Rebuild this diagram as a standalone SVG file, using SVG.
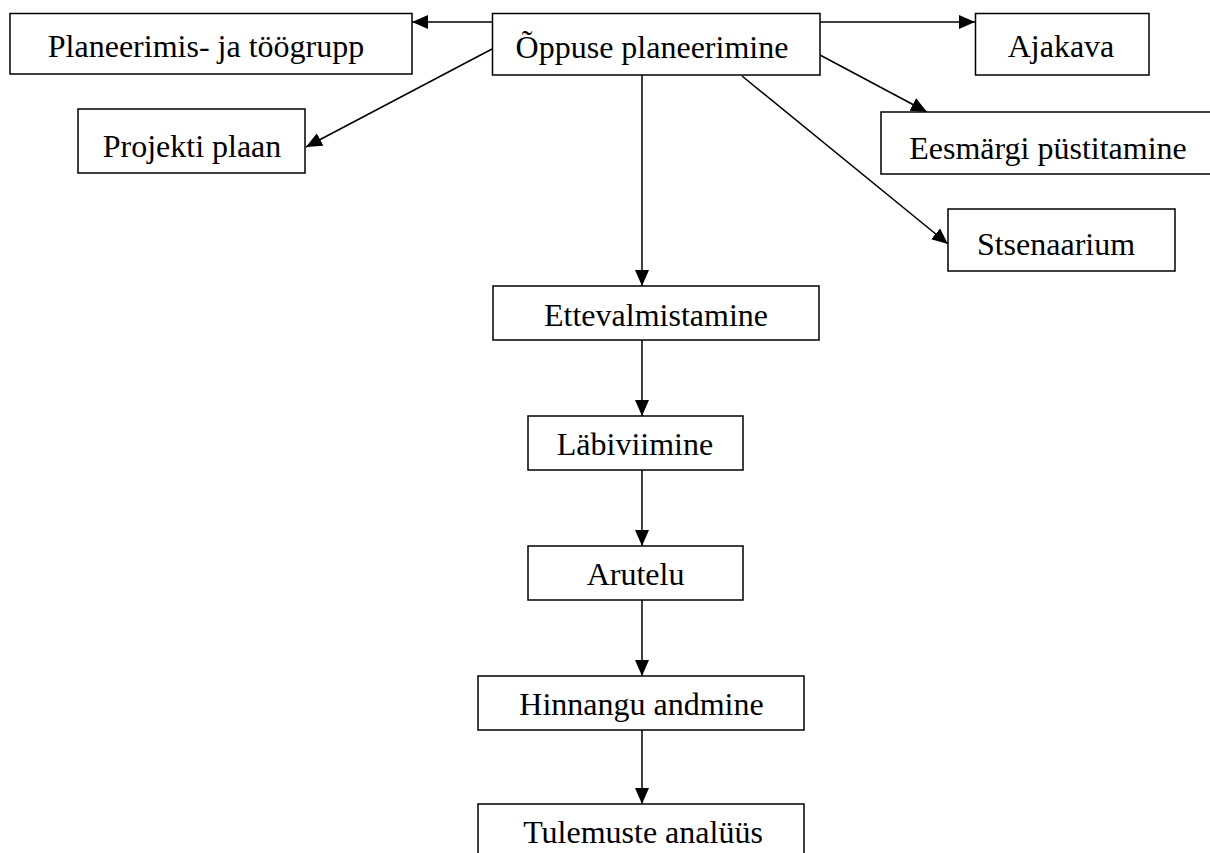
<svg xmlns="http://www.w3.org/2000/svg" width="1210" height="853" viewBox="0 0 1210 853">
<style>
.box{fill:#fff;stroke:#000;stroke-width:1.5}
.lbl{font-family:"Liberation Serif","Times New Roman",serif;font-size:32px;fill:#000;text-anchor:middle}
.con{stroke:#000;stroke-width:1.5;fill:none;marker-end:url(#ah)}
</style>
<defs>
<marker id="ah" markerUnits="userSpaceOnUse" markerWidth="16" markerHeight="16" viewBox="0 0 16 14" refX="16" refY="7" orient="auto">
<path d="M0,0 L16,7 L0,14 Z" fill="#000"/>
</marker>
</defs>
<rect width="1210" height="853" fill="#fff"/>
<g id="connectors">
<line class="con" x1="492" y1="22" x2="412" y2="22"/>
<line class="con" x1="820" y1="22" x2="975" y2="22"/>
<line class="con" x1="492" y1="49" x2="306" y2="147"/>
<line class="con" x1="820" y1="55" x2="927" y2="112"/>
<line class="con" x1="742" y1="76" x2="948" y2="244"/>
<line class="con" x1="642" y1="75" x2="642" y2="286"/>
<line class="con" x1="642" y1="340" x2="642" y2="416"/>
<line class="con" x1="642" y1="470" x2="642" y2="546"/>
<line class="con" x1="642" y1="600" x2="642" y2="676"/>
<line class="con" x1="642" y1="730" x2="642" y2="804"/>
</g>
<g id="n-planeerimis">
<rect class="box" x="10" y="13.5" width="402" height="60.5"/>
<text class="lbl" x="206" y="57">Planeerimis- ja töögrupp</text>
</g>
<g id="n-oppuse">
<rect class="box" x="492.5" y="13.5" width="327.5" height="61.5"/>
<text class="lbl" x="652" y="57.5">Õppuse planeerimine</text>
</g>
<g id="n-ajakava">
<rect class="box" x="975.5" y="13.5" width="173.5" height="61.5"/>
<text class="lbl" x="1061" y="57">Ajakava</text>
</g>
<g id="n-projekti">
<rect class="box" x="78" y="109" width="227" height="64"/>
<text class="lbl" x="192" y="157">Projekti plaan</text>
</g>
<g id="n-eesmargi">
<rect class="box" x="881" y="112" width="340" height="62"/>
<text class="lbl" x="1048" y="158.5">Eesmärgi püstitamine</text>
</g>
<g id="n-stsenaarium">
<rect class="box" x="948" y="209" width="227" height="62"/>
<text class="lbl" x="1056" y="255">Stsenaarium</text>
</g>
<g id="n-ettevalmistamine">
<rect class="box" x="493" y="286" width="326" height="54"/>
<text class="lbl" x="656" y="326">Ettevalmistamine</text>
</g>
<g id="n-labiviimine">
<rect class="box" x="528" y="416" width="215" height="54"/>
<text class="lbl" x="635" y="455">Läbiviimine</text>
</g>
<g id="n-arutelu">
<rect class="box" x="528" y="546" width="215" height="54"/>
<text class="lbl" x="635.5" y="585">Arutelu</text>
</g>
<g id="n-hinnangu">
<rect class="box" x="478" y="676" width="326" height="54"/>
<text class="lbl" x="641.5" y="715">Hinnangu andmine</text>
</g>
<g id="n-tulemuste">
<rect class="box" x="478" y="804" width="326" height="60"/>
<text class="lbl" x="643" y="843">Tulemuste analüüs</text>
</g>
</svg>
